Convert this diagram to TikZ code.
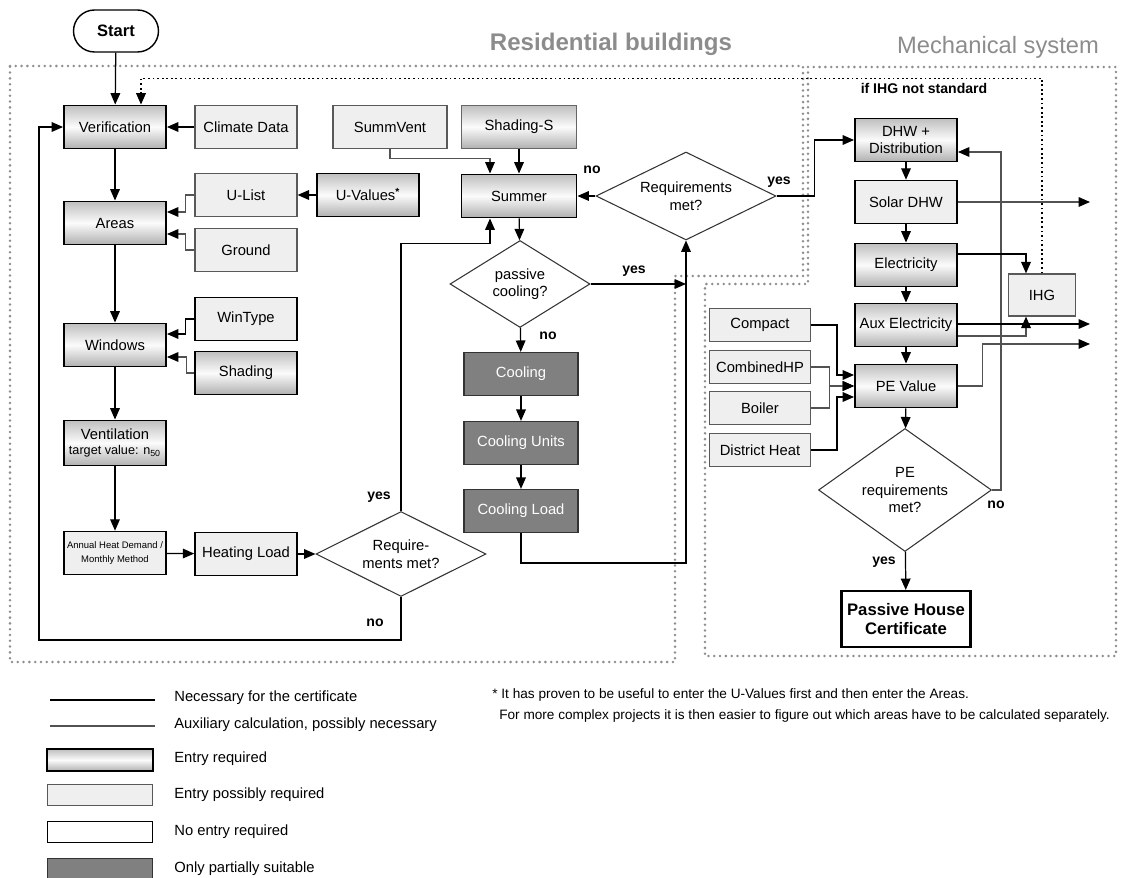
\documentclass[tikz,border=0pt]{standalone}
\usepackage{fontspec}
\setmainfont{Liberation Sans}
\usetikzlibrary{arrows.meta,positioning,shapes.geometric,calc}
\definecolor{lightfill}{HTML}{EFEFEF}
\definecolor{darkfill}{HTML}{808080}
\definecolor{titlegray}{HTML}{8C8C8C}
\definecolor{framegray}{HTML}{8E8E8E}
\tikzset{
box/.style={rectangle,minimum width=2.04cm,minimum height=0.86cm,inner sep=1pt,align=center},
required/.style={box,draw=black,line width=1.1pt,top color=gray!50,bottom color=gray!62,middle color=white!97!gray},
possible/.style={box,draw=black!65,line width=0.7pt,fill=lightfill},
noentry/.style={box,draw=black,line width=0.8pt,fill=white},
partial/.style={box,draw=black!80,line width=0.7pt,fill=darkfill,text=white},
small box/.style={minimum width=2.02cm,minimum height=0.66cm},
decision/.style={diamond,draw=black!80,line width=0.6pt,inner sep=0pt,align=center},
arr/.style={-{Triangle[length=6.5pt,width=5.5pt,black]},line width=0.7pt},
aux/.style={arr,draw=black!68,line width=0.6pt},
frame/.style={draw=framegray,line width=1.6pt,line cap=round,dash pattern=on 0pt off 3.3pt},
ihgline/.style={arr,line width=0.9pt,dash pattern=on 1pt off 1.6pt},
answer/.style={font=\bfseries\fontsize{8}{9.6}\selectfont},
legendtext/.style={anchor=west,inner sep=0pt},
}
\tikzstyle{every node}=[font=\fontsize{8.4}{10}\selectfont]

\begin{document}
\begin{tikzpicture}[x=0.02cm,y=-0.02cm]
    \useasboundingbox (0,0) rectangle (1127,878);

    \node[text=titlegray,font=\bfseries\fontsize{13.7}{16}\selectfont] (titleres) at (611,44) {Residential buildings};
    \node[text=titlegray,font=\fontsize{13.5}{16}\selectfont] (titlemech) at (998,47) {Mechanical system};
    \draw[frame] (10,66) -- (803,66) -- (803,276) -- (675,276) -- (675,662) -- (10,662) -- cycle;
    \draw[frame] (808,67) -- (1116,67) -- (1116,656) -- (705,656) -- (705,284) -- (808,284) -- cycle;

    \node[noentry,rounded corners=0.42cm,minimum width=1.7cm,minimum height=0.84cm,font=\bfseries\fontsize{9.4}{11}\selectfont] (start) at (116,31) {Start};
    \node[required] (verif) at (115,127) {Verification};
    \node[possible] (climate) at (246,127) {Climate Data};
    \node[possible,minimum width=2.28cm] (summvent) at (390,127) {SummVent};
    \node[required,minimum width=2.3cm,draw=black!60,line width=0.7pt] (shadings) at (519,127) {Shading-S};
    \node[possible] (ulist) at (246,195) {U-List};
    \node[required] (uvalues) at (368,195) {U-Values\textsuperscript{\textbf{*}}};
    \node[required] (areas) at (115,223) {Areas};
    \node[possible] (ground) at (246,250) {Ground};
    \node[required,minimum width=2.3cm] (summer) at (519,196) {Summer};
    \node[decision,aspect=2,minimum width=3.6cm,minimum height=1.76cm] (reqsummer) at (686,196) {Requirements\\met?};
    \node[decision,aspect=1.6,minimum width=2.8cm,minimum height=1.74cm] (passive) at (520,284) {passive\\cooling?};
    \node[possible,draw=black,line width=1pt] (wintype) at (246,319) {WinType};
    \node[required] (windows) at (115,345) {Windows};
    \node[required] (shading) at (246,373) {Shading};
    \node[required,minimum height=0.9cm] (vent) at (115,443) {Ventilation\\[-1pt]{\fontsize{7.2}{8}\selectfont target value: n\textsubscript{50}}};
    \node[possible,draw=black,line width=0.9pt,font=\fontsize{5.4}{8}\selectfont] (annual) at (115,553) {Annual Heat Demand /\\Monthly Method};
    \node[possible,draw=black,line width=0.9pt] (heating) at (246,554) {Heating Load};
    \node[decision,aspect=2,minimum width=3.4cm,minimum height=1.7cm] (reqheat) at (401,554) {Require-\\ments met?};
    \node[partial,minimum width=2.28cm] (cooling) at (521,374) {Cooling};
    \node[partial,minimum width=2.28cm] (coolunits) at (521,443) {Cooling Units};
    \node[partial,minimum width=2.28cm] (coolload) at (521,511) {Cooling Load};

    \node[answer] (ihgnote) at (924,88) {if IHG not standard};
    \node[required] (dhw) at (906,140) {DHW +\\Distribution};
    \node[possible,draw=black,line width=0.9pt] (solar) at (906,202) {Solar DHW};
    \node[required] (elec) at (906,265) {Electricity};
    \node[required] (aux) at (906,325) {Aux Electricity};
    \node[required] (pe) at (906,386) {PE Value};
    \node[possible,minimum width=1.34cm,minimum height=0.84cm] (ihg) at (1042,295) {IHG};
    \node[possible,small box] (compact) at (760,325) {Compact};
    \node[possible,small box] (chp) at (760,367) {CombinedHP};
    \node[possible,small box] (boiler) at (760,408) {Boiler};
    \node[possible,small box] (district) at (760,450) {District Heat};
    \node[decision,aspect=1.4,minimum width=3.46cm,minimum height=2.46cm] (pereq) at (905,490) {PE\\requirements\\met?};
    \node[noentry,line width=1.2pt,minimum width=2.58cm,minimum height=1.12cm,font=\bfseries\fontsize{9.5}{11}\selectfont] (cert) at (906,619) {Passive House\\Certificate};
    \coordinate (outsolar) at (1090,202);
    \coordinate (outaux) at (1090,324);
    \coordinate (outpe) at (1090,344);

    \draw[arr] (start) -- (verif);
    \draw[arr] (climate) -- (verif);
    \draw[arr] (verif) -- (areas);
    \draw[arr] (uvalues) -- (ulist);
    \draw[aux] (ulist.west) -- ++(-9,0) |- ($(areas.east)+(0,-11)$);
    \draw[aux] (ground.west) -- ++(-9,0) |- ($(areas.east)+(0,11)$);
    \draw[arr] (areas) -- (windows);
    \draw[arr] (wintype.west) -- ++(-9,0) |- ($(windows.east)+(0,-11)$);
    \draw[aux] (shading.west) -- ++(-8,0) |- ($(windows.east)+(0,12)$);
    \draw[arr] (windows) -- (vent);
    \draw[arr] (vent) -- (annual);
    \draw[arr] (annual) -- (heating);
    \draw[arr] (heating) -- (reqheat);
    \draw[arr] (reqheat.north) |- ($(summer.south)+(-29,25)$) -- ($(summer.south)+(-29,0)$);
    \draw[arr] (reqheat.south) -- ++(0,43) -| ($(verif.west)+(-24,0)$) -- (verif.west);
    \draw[aux] (summvent.south) -- ++(0,9) -| ($(summer.north)+(-29,0)$);
    \draw[arr] (shadings) -- (summer);
    \draw[arr] (summer) -- (passive);
    \draw[arr] (passive) -- (cooling);
    \draw[arr] (cooling) -- (coolunits);
    \draw[arr] (coolunits) -- (coolload);
    \draw[arr] (coolload.south) -- ++(0,30) -| (reqsummer.south);
    \draw[arr] (passive.east) -- (reqsummer.south |- passive.east);
    \draw[arr] (reqsummer.west) -- (summer.east);
    \draw[arr] (reqsummer.east) -- ++(38,0) |- (dhw.west);
    \draw[ihgline] (ihg.north) -- ++(0,-195) -| ($(verif.north)+(26,0)$);

    \draw[arr] (dhw) -- (solar);
    \draw[arr] (solar) -- (elec);
    \draw[arr] (elec) -- (aux);
    \draw[arr] (aux) -- (pe);
    \draw[arr] (pe) -- (pereq);
    \draw[arr] (pereq) -- (cert);
    \draw[aux] (pereq.east) -- ++(9,0) |- ($(dhw.east)+(0,12)$);
    \draw[aux] (solar.east) -- (outsolar);
    \draw[arr] ($(elec.east)+(0,-11)$) -| ($(ihg.north)+(-16,0)$);
    \draw[arr] ($(aux.east)+(0,-1)$) -- (outaux);
    \draw[aux] ($(aux.east)+(0,11)$) -| ($(ihg.south)+(-16,0)$);
    \draw[aux] (pe.east) -- ++(25,0) |- (outpe);
    \draw[arr] (compact.east) -- ++(26,0) |- ($(pe.west)+(0,-11)$);
    \draw[aux] (chp.east) -- ++(18,0) |- (pe.west);
    \draw[aux] (boiler.east) -- ++(18,0) |- (pe.west);
    \draw[arr] (district.east) -- ++(26,0) |- ($(pe.west)+(0,11)$);

    \node[answer] (nosummer) at (592,170) {no};
    \node[answer] (yessummer) at (779,182) {yes};
    \node[answer] (yespassive) at (634,271) {yes};
    \node[answer] (nopassive) at (548,336) {no};
    \node[answer] (yesheat) at (379,497) {yes};
    \node[answer] (noheat) at (375,623) {no};
    \node[answer] (nope) at (996,505) {no};
    \node[answer] (yespe) at (884,562) {yes};

    \coordinate (lgneca) at (50,700);
    \coordinate (lgnecb) at (155,700);
    \coordinate (lgauxa) at (50,726);
    \coordinate (lgauxb) at (155,726);
    \draw[line width=1.1pt] (lgneca) -- (lgnecb);
    \draw[black!68,line width=0.6pt] (lgauxa) -- (lgauxb);
    \node[legendtext] (lgnectext) at (174,698) {Necessary for the certificate};
    \node[legendtext] (lgauxtext) at (174,725) {Auxiliary calculation, possibly necessary};
    \node[required,minimum width=2.12cm,minimum height=0.44cm] (lgreq) at (100,760) {};
    \node[possible,minimum width=2.1cm,minimum height=0.42cm] (lgpos) at (100,795) {};
    \node[noentry,minimum width=2.1cm,minimum height=0.42cm] (lgno) at (100,832) {};
    \node[partial,minimum width=2.1cm,minimum height=0.42cm] (lgpart) at (100,869) {};
    \node[legendtext] (lgreqtext) at (174,759) {Entry required};
    \node[legendtext] (lgpostext) at (174,795) {Entry possibly required};
    \node[legendtext] (lgnotext) at (174,832) {No entry required};
    \node[legendtext] (lgparttext) at (174,869) {Only partially suitable};
    \node[legendtext,font=\fontsize{7.75}{9.4}\selectfont] (note1) at (492,695) {* It has proven to be useful to enter the U-Values first and then enter the Areas.};
    \node[legendtext,font=\fontsize{7.75}{9.4}\selectfont] (note2) at (499,716) {For more complex projects it is then easier to figure out which areas have to be calculated separately.};
\end{tikzpicture}
\end{document}
